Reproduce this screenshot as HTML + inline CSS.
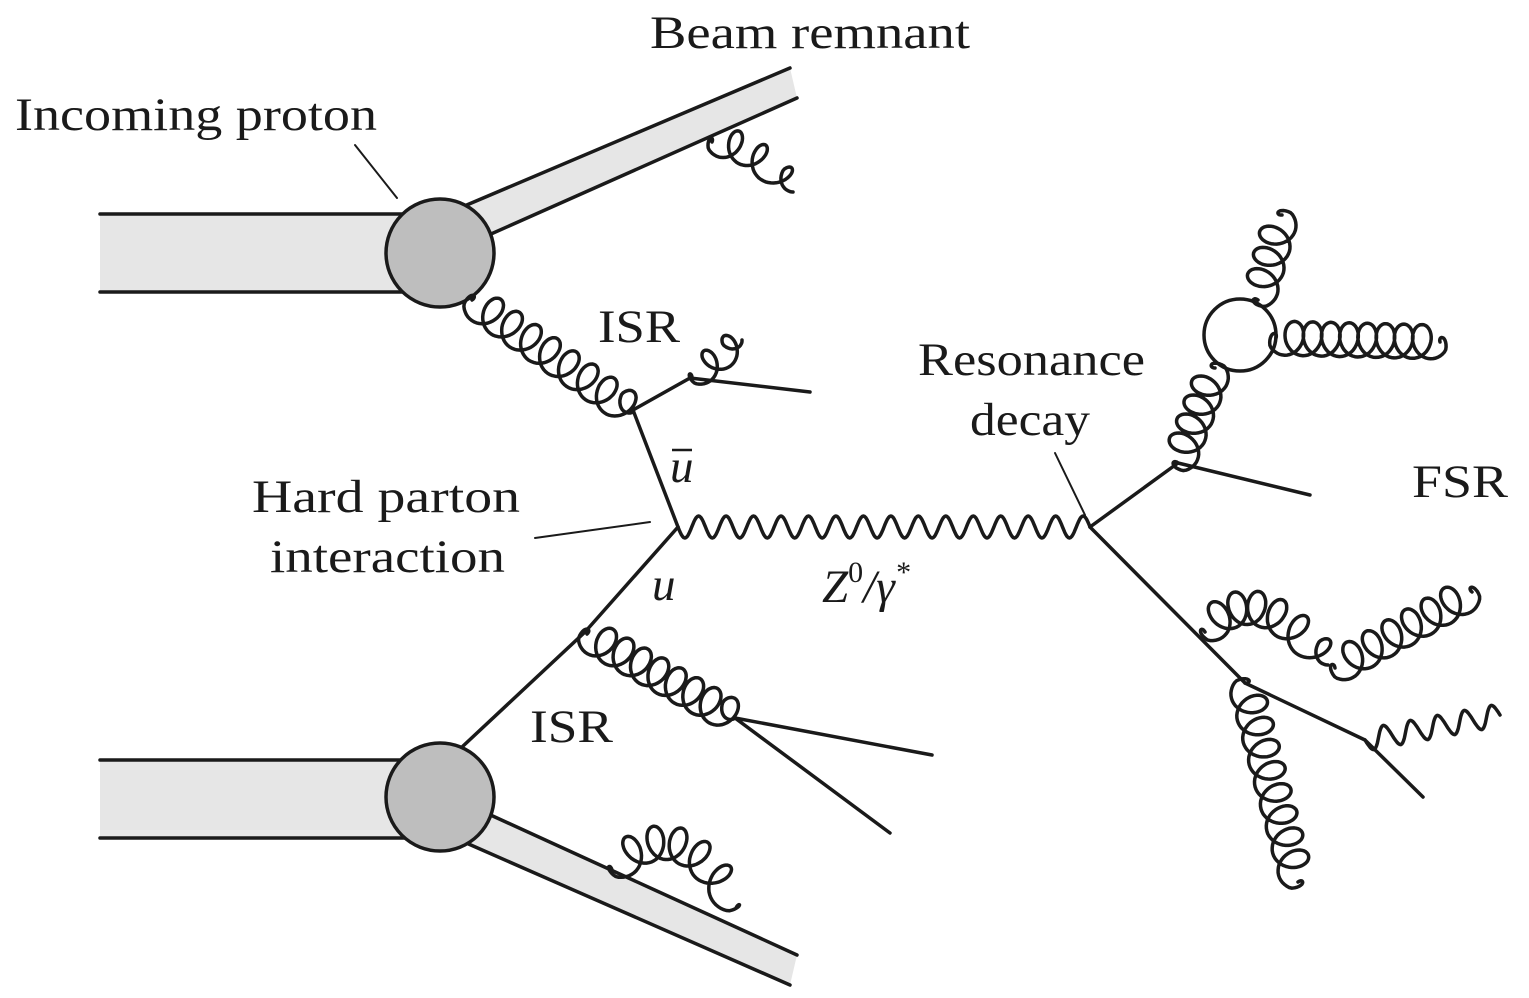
<!DOCTYPE html>
<html><head><meta charset="utf-8"><style>
html,body{margin:0;padding:0;background:#fff;}
svg{display:block}
text{font-family:"Liberation Serif",serif;font-size:47px;fill:#1a1a1a}
</style></head><body>
<svg id="s" width="1529" height="998" viewBox="0 0 1529 998">
<g stroke="#1a1a1a" stroke-width="3.5" fill="none" stroke-linecap="round" stroke-linejoin="round">
<path d="M100,214 L440,214 L440,292 L100,292" fill="#e6e6e6"/>
<path d="M462,207 L790,68 L797,98 L482,238 Z" fill="#e6e6e6" stroke="none"/>
<path d="M462,207 L790,68 M797,98 L482,238" />
<circle cx="440" cy="253" r="54" fill="#bebebe"/>
<path d="M100,760 L440,760 L440,838 L100,838" fill="#e6e6e6"/>
<path d="M484,812 L797,955 L790,985 L464,842 Z" fill="#e6e6e6" stroke="none"/>
<path d="M484,812 L797,955 M790,985 L464,842"/>
<circle cx="440" cy="797" r="54" fill="#bebebe"/>
<path d="M633,410 L690,378 L810,392"/>
<path d="M633,410 L678,527"/>
<path d="M678,527 L585,632 L462,747"/>
<path d="M932,755 L735,718 L890,833"/>
<path d="M1090,527 L1178,463 L1310,495"/>
<path d="M1090,527 L1245,683 L1365,740 L1423,797"/>
<circle cx="1240" cy="335" r="36" fill="#fff"/>
<path d="M355,145 L397,198 M535,538 L650,522 M1055,453 L1085,515" stroke-width="2"/>
<g id="coils"></g>
</g>
<text x="650" y="48" textLength="320" lengthAdjust="spacingAndGlyphs">Beam remnant</text>
<text x="15" y="130" textLength="362" lengthAdjust="spacingAndGlyphs">Incoming proton</text>
<text x="598" y="342" textLength="82" lengthAdjust="spacingAndGlyphs">ISR</text>
<text x="918" y="375" textLength="227" lengthAdjust="spacingAndGlyphs">Resonance</text>
<text x="970" y="435" textLength="120" lengthAdjust="spacingAndGlyphs">decay</text>
<text x="1412" y="497" textLength="96" lengthAdjust="spacingAndGlyphs">FSR</text>
<text x="252" y="512" textLength="268" lengthAdjust="spacingAndGlyphs">Hard parton</text>
<text x="270" y="572" textLength="235" lengthAdjust="spacingAndGlyphs">interaction</text>
<text x="670" y="482" font-style="italic">u</text>
<path d="M672,450 L692,450" stroke="#1a1a1a" stroke-width="2.5"/>
<text x="652" y="600" font-style="italic">u</text>
<text x="822" y="602" font-style="italic">Z<tspan font-style="normal" font-size="30" dy="-20">0</tspan><tspan dy="20">/γ</tspan><tspan font-size="30" dy="-20">*</tspan></text>
<text x="530" y="742" textLength="83" lengthAdjust="spacingAndGlyphs">ISR</text>
</svg>
<script>
const g=document.getElementById('coils');
function bez(A,C,B,t){const u=1-t;return [u*u*A[0]+2*u*t*C[0]+t*t*B[0],u*u*A[1]+2*u*t*C[1]+t*t*B[1]];}
function coil(name,A,B,n,r,C){
  C=C||[(A[0]+B[0])/2,(A[1]+B[1])/2];
  let d='';const N=n*40;
  for(let i=0;i<=N;i++){const t=i/N;const p=bez(A,C,B,t);const q=bez(A,C,B,Math.min(1,t+0.001));const p0=bez(A,C,B,Math.max(0,t-0.001));
    let dx=q[0]-p0[0],dy=q[1]-p0[1];const l=Math.hypot(dx,dy);dx/=l;dy/=l;
    const ph=2*Math.PI*n*t;
    const s=Math.sin(ph);
    const env=Math.min(1,t*n*3,(1-t)*n*3);
    const al=-0.8*r*s*env;
    const perp=r*Math.sin(ph-Math.PI/2)*env;
    const X=p[0]+dx*al-dy*perp, Y=p[1]+dy*al+dx*perp;
    d+=(i?'L':'M')+X.toFixed(1)+','+Y.toFixed(1);}
  const e=document.createElementNS('http://www.w3.org/2000/svg','path');
  e.setAttribute('d',d);
  
  
  g.appendChild(e);
}
function wave(name,A,B,n,a){
  let d='';const N=n*24;const dx=B[0]-A[0],dy=B[1]-A[1],l=Math.hypot(dx,dy);
  for(let i=0;i<=N;i++){const t=i/N;const s=a*Math.sin(2*Math.PI*n*t);
    d+=(i?'L':'M')+(A[0]+dx*t-dy/l*s).toFixed(1)+','+(A[1]+dy*t+dx/l*s).toFixed(1);}
  const e=document.createElementNS('http://www.w3.org/2000/svg','path');
  e.setAttribute('d',d);
  
  
  g.appendChild(e);
}
coil('gluon-isr-top',[472,300],[633,412],8.5,17);
coil('gluon-isr-top-small',[692,377],[742,340],2.5,14);
coil('gluon-top-remnant',[712,142],[793,192],3.5,15,[750,140]);
coil('gluon-isr-bottom',[587,634],[735,718],8.5,17);
coil('gluon-bottom-remnant',[612,870],[736,908],6,17,[680,800]);
coil('gluon-fsr-to-blob',[1178,463],[1215,368],5,17);
coil('gluon-fsr-blob-up',[1258,300],[1282,215],4,17);
coil('gluon-fsr-blob-right',[1276,338],[1440,342],9,17);
coil('gluon-fsr-lower-arc',[1205,632],[1328,665],6.5,17,[1255,570]);
coil('gluon-fsr-lower-right',[1335,668],[1472,592],7,17);
coil('gluon-fsr-lower-down',[1245,683],[1298,882],9,17);
wave('z-boson',[678,527],[1090,527],15,11);
wave('photon-fsr',[1365,740],[1500,715],5,11);
</script>
</body></html>
